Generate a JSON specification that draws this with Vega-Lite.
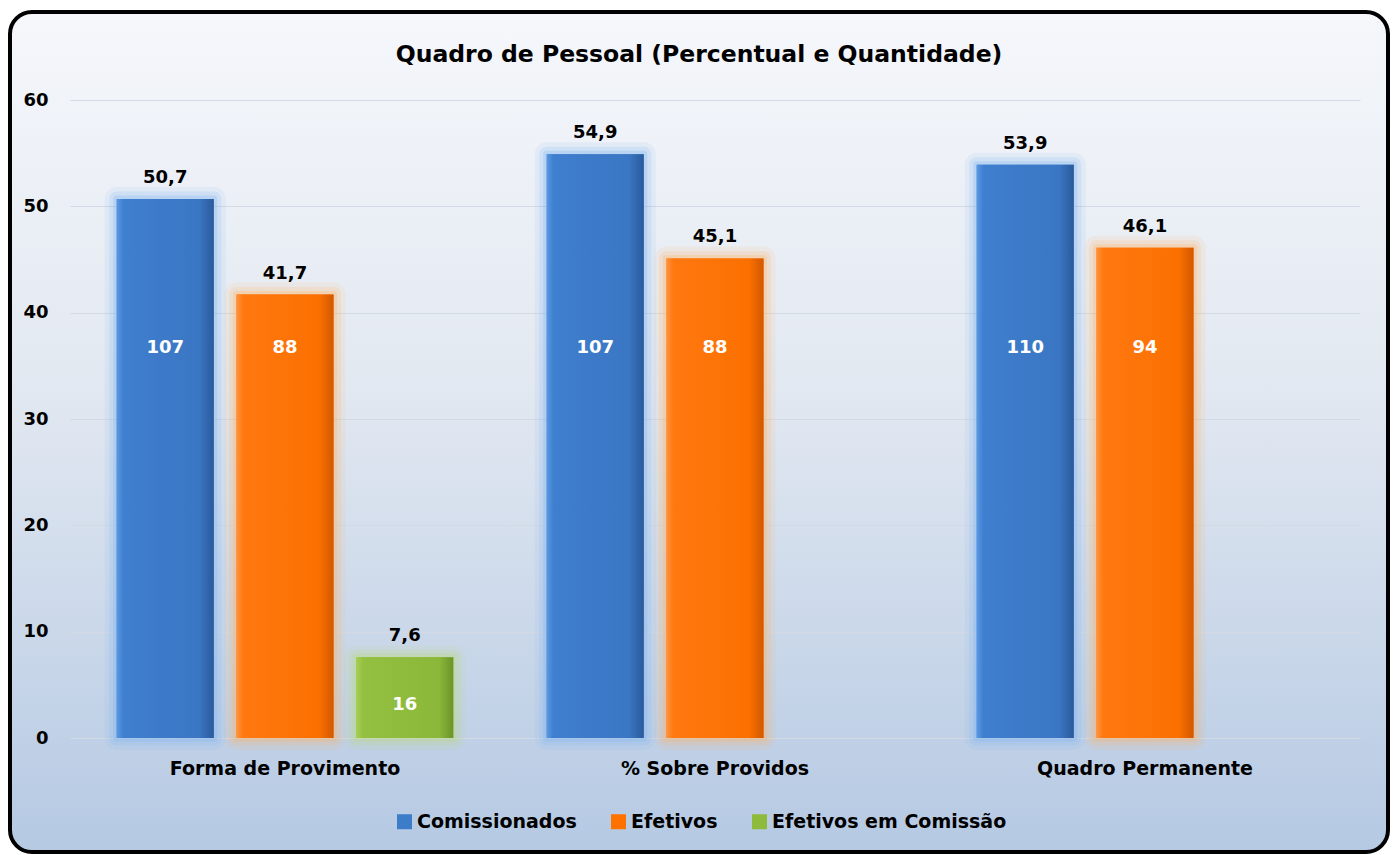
{
  "$schema": "https://vega.github.io/schema/vega-lite/v6.json",
  "width": 1378,
  "height": 840,
  "autosize": {"type": "none"},
  "padding": {"left": 10, "top": 12, "right": 7, "bottom": 3},
  "background": "white",
  "config": {
    "locale": {"number": {"decimal": ",", "thousands": ".", "grouping": [3], "currency": ["R$", ""]}},
    "view": {
      "fill": {"gradient": "linear", "x1": 0, "y1": 0, "x2": 0, "y2": 1,
        "stops": [{"offset": 0, "color": "#f5f7fb"}, {"offset": 0.45, "color": "#e2e8f1"}, {"offset": 1, "color": "#b5c9e3"}]},
      "stroke": "black",
      "strokeWidth": 4,
      "cornerRadius": 22
    },
    "font": "DejaVu Sans"
  },
  "title": {
    "text": "Quadro de Pessoal (Percentual e Quantidade)",
    "font": "DejaVu Sans",
    "fontSize": 23.5,
    "fontWeight": "bold",
    "color": "black",
    "anchor": "middle",
    "offset": -54
  },
  "data": {
    "values": [
      {"grupo": "Forma de Provimento", "serie": "Comissionados", "percentual": 50.7, "quantidade": 107},
      {"grupo": "Forma de Provimento", "serie": "Efetivos", "percentual": 41.7, "quantidade": 88},
      {"grupo": "Forma de Provimento", "serie": "Efetivos em Comissão", "percentual": 7.6, "quantidade": 16},
      {"grupo": "% Sobre Providos", "serie": "Comissionados", "percentual": 54.9, "quantidade": 107},
      {"grupo": "% Sobre Providos", "serie": "Efetivos", "percentual": 45.1, "quantidade": 88},
      {"grupo": "Quadro Permanente", "serie": "Comissionados", "percentual": 53.9, "quantidade": 110},
      {"grupo": "Quadro Permanente", "serie": "Efetivos", "percentual": 46.1, "quantidade": 94}
    ]
  },
  "encoding": {
    "x": {
      "field": "grupo", "type": "nominal",
      "sort": ["Forma de Provimento", "% Sobre Providos", "Quadro Permanente"],
      "scale": {"range": [60, 1350], "paddingInner": 0, "paddingOuter": 0},
      "axis": {"title": null, "domain": false, "ticks": false, "grid": false, "labelAngle": 0,
        "labelPadding": 0, "offset": -84, "labelBaseline": "middle", "labelLimit": 0,
        "labelFont": "DejaVu Sans", "labelFontWeight": "bold", "labelFontSize": 19, "labelColor": "black"}
    },
    "xOffset": {
      "field": "serie", "type": "nominal",
      "sort": ["Comissionados", "Efetivos", "Efetivos em Comissão"],
      "scale": {"paddingInner": 0.19, "paddingOuter": 0.39}
    },
    "y": {
      "field": "percentual", "type": "quantitative",
      "scale": {"domain": [0, 60], "range": [726, 88], "nice": false},
      "axis": {"title": null, "values": [0, 10, 20, 30, 40, 50, 60], "domain": false, "ticks": false,
        "labelPadding": 4, "offset": -42, "grid": true, "gridColor": "#d3dae5", "gridWidth": 1.2,
        "labelFont": "DejaVu Sans", "labelFontWeight": "bold", "labelFontSize": 18, "labelColor": "black"}
    }
  },
  "layer": [
    {
      "mark": {"type": "bar", "fillOpacity": 0, "strokeWidth": 24, "strokeOpacity": 0.1, "strokeJoin": "round"},
      "encoding": {
        "stroke": {"field": "serie", "type": "nominal",
          "scale": {"domain": ["Efetivos em Comissão", "Efetivos", "Comissionados"], "range": ["#b9dc72", "#ffae5c", "#78aef0"]},
          "legend": null}
      }
    },
    {
      "mark": {"type": "bar", "fillOpacity": 0, "strokeWidth": 15, "strokeOpacity": 0.16, "strokeJoin": "round"},
      "encoding": {
        "stroke": {"field": "serie", "type": "nominal", "legend": null}
      }
    },
    {
      "mark": {"type": "bar", "fillOpacity": 0, "strokeWidth": 7, "strokeOpacity": 0.25, "strokeJoin": "round"},
      "encoding": {
        "stroke": {"field": "serie", "type": "nominal", "legend": null}
      }
    },
    {
      "mark": {"type": "bar"},
      "encoding": {
        "color": {"field": "serie", "type": "nominal",
          "sort": ["Comissionados", "Efetivos", "Efetivos em Comissão"],
          "scale": {"domain": ["Comissionados", "Efetivos", "Efetivos em Comissão"], "range": ["#3d7cc9", "#ff7200", "#8fbb3c"]},
          "legend": {"orient": "none", "legendX": 385, "legendY": 800, "direction": "horizontal", "title": null,
            "symbolType": "square", "symbolSize": 225, "symbolStrokeWidth": 0, "labelOffset": 3, "columnPadding": 32,
            "labelFont": "DejaVu Sans", "labelFontWeight": "bold", "labelFontSize": 19, "labelColor": "black", "labelLimit": 0}
        }
      }
    },
    {
      "transform": [{"filter": "datum.serie === 'Comissionados'"}],
      "mark": {"type": "bar", "color": {"gradient": "linear", "x1": 0, "y1": 0, "x2": 1, "y2": 0,
        "stops": [{"offset": 0, "color": "#5a98e2"}, {"offset": 0.07, "color": "#3f7fcf"}, {"offset": 0.85, "color": "#3a76c3"}, {"offset": 1, "color": "#2a5a9c"}]}}
    },
    {
      "transform": [{"filter": "datum.serie === 'Efetivos'"}],
      "mark": {"type": "bar", "color": {"gradient": "linear", "x1": 0, "y1": 0, "x2": 1, "y2": 0,
        "stops": [{"offset": 0, "color": "#ff9440"}, {"offset": 0.07, "color": "#ff7810"}, {"offset": 0.85, "color": "#fb7000"}, {"offset": 1, "color": "#d25800"}]}}
    },
    {
      "transform": [{"filter": "datum.serie === 'Efetivos em Comissão'"}],
      "mark": {"type": "bar", "color": {"gradient": "linear", "x1": 0, "y1": 0, "x2": 1, "y2": 0,
        "stops": [{"offset": 0, "color": "#a6cf56"}, {"offset": 0.07, "color": "#94c041"}, {"offset": 0.85, "color": "#8cb83a"}, {"offset": 1, "color": "#6a9428"}]}}
    },
    {
      "mark": {"type": "text", "baseline": "bottom", "dy": -12, "font": "DejaVu Sans", "fontWeight": "bold", "fontSize": 18, "color": "black"},
      "encoding": {
        "text": {"field": "percentual", "type": "quantitative", "format": ".1f"}
      }
    },
    {
      "transform": [{"calculate": "datum.percentual > 20 ? 36.7 : datum.percentual * 0.41", "as": "posicao_rotulo"}],
      "mark": {"type": "text", "baseline": "middle", "font": "DejaVu Sans", "fontWeight": "bold", "fontSize": 18, "color": "white"},
      "encoding": {
        "y": {"field": "posicao_rotulo", "type": "quantitative"},
        "text": {"field": "quantidade", "type": "quantitative"}
      }
    }
  ]
}
